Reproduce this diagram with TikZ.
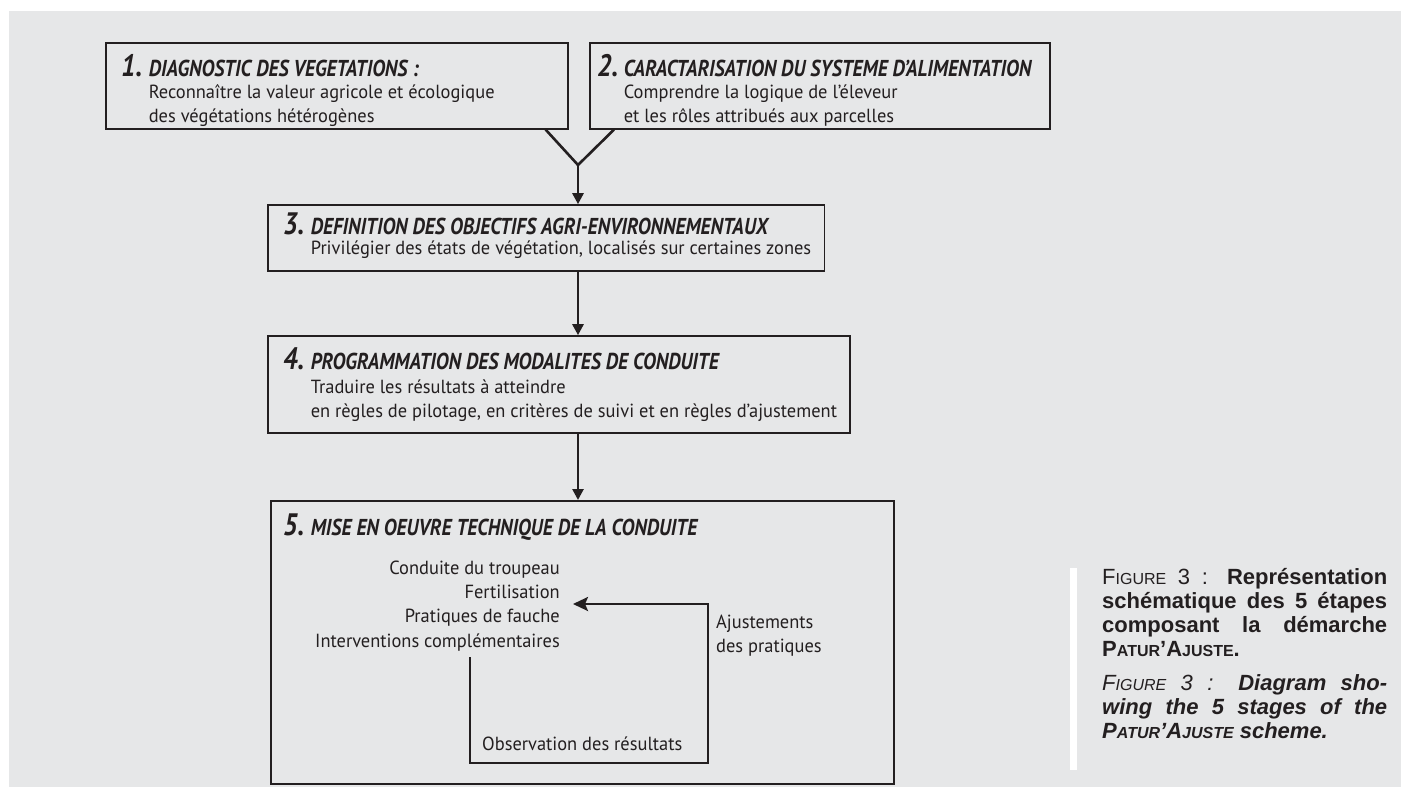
\documentclass[tikz,border=0pt]{standalone}
\usepackage{fontspec}
\setmainfont[FakeStretch=0.97]{PT Sans}
\newfontfamily\ttlfont[FakeStretch=0.86]{PT Sans}
\newfontfamily\capfont{Liberation Sans}
\usetikzlibrary{arrows.meta,fit}
\definecolor{bgc}{HTML}{E6E7E8}
\definecolor{ink}{HTML}{231F20}
\newcommand{\mysc}[1]{{\fontsize{16}{24}\selectfont #1}}
\begin{document}
\begin{tikzpicture}[x=1pt,y=-1pt,
  box/.style={draw=ink, line width=1.6pt, inner sep=0pt, anchor=north west},
  fbox/.style={draw=ink, line width=1.6pt, inner sep=0pt},
  conn/.style={draw=ink, line width=2.6pt},
  arr/.style={conn, -{Triangle[length=11pt,width=11pt]}},
  looparr/.style={conn, line join=miter, -{Stealth[length=15pt,width=14pt,inset=3pt]}},
  txt/.style={anchor=base west, inner sep=0pt, text=ink, font=\fontsize{19}{24}\selectfont},
  rtxt/.style={txt, anchor=base east},
  ttl/.style={anchor=base west, inner sep=0pt, text=ink, font=\ttlfont\bfseries\itshape\fontsize{23}{25}\selectfont},
  num/.style={anchor=base west, inner sep=0pt, text=ink, font=\ttlfont\bfseries\itshape\fontsize{31}{34}\selectfont},
]
\useasboundingbox (0,0) rectangle (1408,794);
\fill[white] (0,0) rectangle (1408,794);
\fill[bgc] (9,11) rectangle (1401,787);

% box 1 and 2 frames
\node[box, minimum width=462pt, minimum height=86pt] (b1) at (105,42) {};
\node[box, minimum width=460pt, minimum height=86pt] (b2) at (589,42) {};

% box 1 text
\node[num] (n1) at (121,77) {1.};
\node[ttl] (t1) at ([xshift=6pt]n1.base east) {DIAGNOSTIC DES VEGETATIONS :};
\node[txt] (s1a) at ([yshift=-22pt]t1.base west) {Reconnaître la valeur agricole et écologique};
\node[txt] (s1b) at ([yshift=-46pt]t1.base west) {des végétations hétérogènes};

% box 2 text
\node[num] (n2) at (597,77) {2.};
\node[ttl] (t2) at ([xshift=5pt]n2.base east) {CARACTARISATION DU SYSTEME D’ALIMENTATION};
\node[txt] (s2a) at ([yshift=-22pt]t2.base west) {Comprendre la logique de l’éleveur};
\node[txt] (s2b) at ([yshift=-46pt]t2.base west) {et les rôles attribués aux parcelles};

% box 3
\node[num] (n3) at (283,235) {3.};
\node[ttl] (t3) at ([xshift=6pt]n3.base east) {DEFINITION DES OBJECTIFS AGRI-ENVIRONNEMENTAUX};
\node[txt] (s3a) at ([yshift=-20pt]t3.base west) {Privilégier des états de végétation, localisés sur certaines zones};
\coordinate (b3tl) at (268,205);
\coordinate (b3bot) at (0,271);
\path (s3a.east) ++(13,0) coordinate (b3r);
\node[fbox, fit=(b3tl)(b3r |- b3bot)] (b3) {};

% box 4
\node[num] (n4) at (283,369) {4.};
\node[ttl] (t4) at ([xshift=6pt]n4.base east) {PROGRAMMATION DES MODALITES DE CONDUITE};
\node[txt] (s4a) at ([yshift=-24pt]t4.base west) {Traduire les résultats à atteindre};
\node[txt] (s4b) at ([yshift=-48pt]t4.base west) {en règles de pilotage, en critères de suivi et en règles d’ajustement};
\coordinate (b4tl) at (268,336);
\coordinate (b4bot) at (0,433);
\path (s4b.east) ++(13,0) coordinate (b4r);
\node[fbox, fit=(b4tl)(b4r |- b4bot)] (b4) {};

% box 5
\node[box, minimum width=623pt, minimum height=283pt] (b5) at (270,500) {};
\node[num] (n5) at (283,535) {5.};
\node[ttl] (t5) at ([xshift=6pt]n5.base east) {MISE EN OEUVRE TECHNIQUE DE LA CONDUITE};
\node[rtxt] (l1) at (560,574) {Conduite du troupeau};
\node[rtxt] (l2) at (560,598) {Fertilisation};
\node[rtxt] (l3) at (560,622) {Pratiques de fauche};
\node[rtxt] (l4) at (560,647) {Interventions complémentaires};
\node[txt] (obs) at (482,750) {Observation des résultats};
\node[txt] (aj1) at (716,628) {Ajustements};
\node[txt] (aj2) at (716,652) {des pratiques};

% Y connector and arrows
\coordinate (j) at (578,165);
\draw[conn, line join=miter] ([xshift=-23pt]b1.south east) -- (j) -- ([xshift=25pt]b2.south west);
\draw[arr] (j) -- (j |- b3.north);
\draw[arr] (j |- b3.south) -- (j |- b4.north);
\draw[arr] (j |- b4.south) -- (j |- b5.north);

% loop
\coordinate (lA) at (470,657);
\coordinate (lC) at (708,763);
\coordinate (lT) at (573,604);
\draw[looparr] (lA) |- (lC) |- (lT);

% caption
\fill[white] (1070,568) rectangle (1077,770);
\node[anchor=base west, inner sep=0pt, text=ink] (cap) at (1102,584) {\parbox[t]{285pt}{\capfont\fontsize{22}{24}\selectfont
F\mysc{IGURE} 3 : \textbf{Représentation\linebreak schématique des 5 étapes\linebreak composant la démarche\linebreak P\mysc{ATUR}’A\mysc{JUSTE}.}\par
\vspace{10pt}
\itshape F\mysc{IGURE} 3 : \textbf{Diagram sho-\linebreak wing the 5 stages of the\linebreak P\mysc{ATUR}’A\mysc{JUSTE} scheme.}}};
\end{tikzpicture}
\end{document}
